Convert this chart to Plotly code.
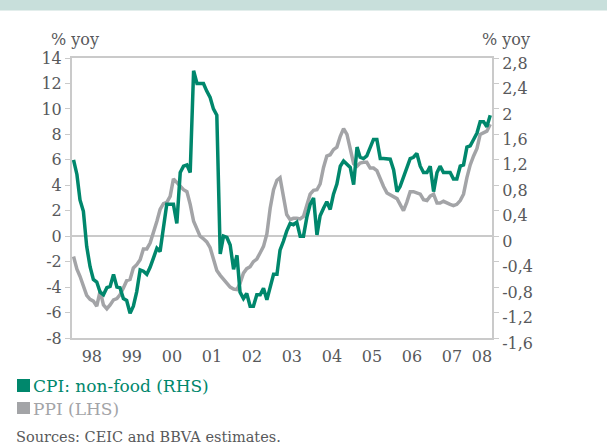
import pandas as pd
import plotly.graph_objects as go

# Monthly data Jan 1998 - Jun 2008
start_month = "1998-01-01"
n_months = 126

ppi_lhs = [
    -1.6, -2.6, -3.15, -3.9, -4.65, -4.96, -5.1, -5.5, -4.3, -5.4, -5.7, -5.4,
    -5.0, -4.9, -4.6, -4.07, -3.5, -3.4, -2.5, -2.24, -1.85, -1.0, -1.0, -0.54,
    0.25, 1.17, 2.1, 2.55, 2.66, 3.13, 4.5, 4.2, 3.85, 3.65, 3.5, 2.5,
    1.17, 0.6, 0.0, -0.2, -0.45, -0.9, -1.7, -2.7, -3.08, -3.4, -3.76, -4.0,
    -4.15, -4.2, -3.7, -2.9, -2.55, -2.4, -2.0, -1.8, -1.3, -0.8, 0.17, 2.2,
    3.65, 4.4, 4.6, 3.0, 1.7, 1.3, 1.4, 1.4, 1.35, 1.55, 2.5, 3.3,
    3.6, 3.65, 4.1, 5.4, 6.3, 6.4, 6.8, 7.0, 7.85, 8.45, 8.0, 7.0,
    5.7, 5.5, 5.75, 5.8, 5.8, 5.35, 5.35, 5.15, 4.5, 3.9, 3.4, 3.26,
    3.13, 2.95, 2.5, 2.0, 2.66, 3.5, 3.5, 3.4, 3.3, 2.87, 2.8, 3.15,
    3.3, 2.6, 2.6, 2.74, 2.6, 2.5, 2.4, 2.5, 2.8, 3.3, 4.6, 5.6,
    6.3, 6.9, 8.0, 8.1, 8.25, 8.8,
]

cpi_nonfood_rhs = [
    1.20, 0.97, 0.57, 0.39, -0.16, -0.48, -0.68, -0.72, -0.88, -0.92, -0.81, -0.79,
    -0.60, -0.80, -0.81, -0.98, -1.01, -1.21, -1.10, -0.87, -0.53, -0.55, -0.60, -0.49,
    -0.34, -0.19, -0.24, 0.13, 0.50, 0.50, 0.50, 0.20, 1.00, 1.10, 1.12, 1.00,
    2.60, 2.40, 2.40, 2.40, 2.28, 2.18, 2.00, 1.90, -0.28, 0.00, -0.02, -0.14,
    -0.52, -0.30, -0.88, -0.98, -0.90, -1.10, -1.10, -0.92, -0.92, -0.82, -1.00, -0.82,
    -0.60, -0.60, -0.22, -0.08, 0.08, 0.20, 0.18, 0.22, 0.00, 0.00, 0.30, 0.50,
    0.60, 0.02, 0.32, 0.44, 0.54, 0.42, 0.66, 0.82, 1.10, 1.18, 1.12, 1.08,
    0.81, 1.40, 1.24, 1.22, 1.26, 1.38, 1.52, 1.52, 1.22, 1.22, 1.22, 1.21,
    1.04, 0.70, 0.78, 0.92, 1.08, 1.22, 1.24, 1.30, 1.10, 1.00, 1.00, 1.10,
    0.70, 1.00, 1.10, 1.00, 1.00, 1.00, 0.90, 0.90, 1.10, 1.12, 1.40, 1.42,
    1.52, 1.62, 1.80, 1.80, 1.72, 1.90,
]

year_tick_dates = ["1998-07-01", "1999-07-01", "2000-07-01", "2001-07-01", "2002-07-01",
                   "2003-07-01", "2004-07-01", "2005-07-01", "2006-07-01", "2007-07-01",
                   "2008-04-01"]
year_tick_labels = ["98", "99", "00", "01", "02", "03", "04", "05", "06", "07", "08"]

left_ticks = [-8, -6, -4, -2, 0, 2, 4, 6, 8, 10, 12, 14]
left_tick_labels = ["-8", "-6", "-4", "-2", "0", "2", "4", "6", "8", "10", "12", "14"]
right_ticks = [-1.6, -1.2, -0.8, -0.4, 0, 0.4, 0.8, 1.2, 1.6, 2.0, 2.4, 2.8]
right_tick_labels = ["-1,6", "-1,2", "-0,8", "-0,4", "0", "0,4", "0,8", "1,2", "1,6", "2", "2,4", "2,8"]

months = pd.date_range(start_month, periods=n_months, freq="MS") + pd.Timedelta(days=14)

GREEN = "#00876C"
GREY = "#A3A4A7"
TXT = "#58595B"
AXC = "#CACACA"
FONT = "DejaVu Serif, Liberation Serif, serif"

W, H = 607, 446
L, R, T, B = 72, 115, 58, 108
PW, PH = W - L - R, H - T - B


def py(y_px):
    return (H - B - y_px) / PH


def px(x_px):
    return (x_px - L) / PW


fig = go.Figure()
fig.add_trace(go.Scatter(x=months, y=ppi_lhs, mode="lines", name="PPI (LHS)",
                         line=dict(color=GREY, width=3.5), yaxis="y"))
fig.add_trace(go.Scatter(x=months, y=cpi_nonfood_rhs, mode="lines", name="CPI: non-food (RHS)",
                         line=dict(color=GREEN, width=3.5), yaxis="y2"))

fig.update_layout(
    width=W, height=H,
    margin=dict(l=L, r=R, t=T, b=B, autoexpand=False),
    paper_bgcolor="white", plot_bgcolor="white",
    showlegend=False,
    font=dict(family=FONT, size=16, color=TXT),
    xaxis=dict(
        range=["1998-01-01", "2008-07-01"],
        tickvals=year_tick_dates, ticktext=year_tick_labels,
        showgrid=False, zeroline=False,
        showline=True, linecolor=AXC, linewidth=2, mirror=True,
        ticks="", ticklabelstandoff=3,
        tickfont=dict(family=FONT, size=16, color=TXT),
    ),
    yaxis=dict(
        range=[-8, 14], tickvals=left_ticks, ticktext=left_tick_labels,
        showgrid=False, zeroline=True, zerolinecolor=AXC, zerolinewidth=1.5,
        showline=True, linecolor=AXC, linewidth=2, mirror=True,
        ticks="outside", ticklen=5, tickcolor=AXC, tickwidth=1,
        tickfont=dict(family=FONT, size=16, color=TXT),
    ),
    yaxis2=dict(
        range=[-1.6, 2.8], tickvals=right_ticks, ticktext=right_tick_labels,
        overlaying="y", side="right",
        showgrid=False, zeroline=False,
        showline=True, linecolor=AXC, linewidth=2,
        ticks="outside", ticklen=5, tickcolor=AXC, tickwidth=1,
        ticklabelshift=5,
        tickfont=dict(family=FONT, size=16, color=TXT),
    ),
)

# top band
fig.add_shape(type="rect", xref="paper", yref="paper", x0=px(0), x1=px(W),
              y0=py(10), y1=py(0), fillcolor="#C8DFDB", line=dict(width=0))
fig.add_shape(type="line", xref="paper", yref="paper", x0=px(0), x1=px(W),
              y0=py(10.5), y1=py(10.5), line=dict(color="#E3EEEC", width=1))

# axis unit titles
fig.add_annotation(xref="paper", yref="paper", x=px(49), y=py(39), text="% yoy",
                   showarrow=False, xanchor="left", yanchor="middle",
                   font=dict(family=FONT, size=16, color=TXT))
fig.add_annotation(xref="paper", yref="paper", x=px(480), y=py(39), text="% yoy",
                   showarrow=False, xanchor="left", yanchor="middle",
                   font=dict(family=FONT, size=16, color=TXT))

# legend
fig.add_shape(type="rect", xref="paper", yref="paper", x0=px(17), x1=px(30),
              y0=py(392), y1=py(379), fillcolor=GREEN, line=dict(width=0))
fig.add_annotation(xref="paper", yref="paper", x=px(31), y=py(385.5), text="CPI: non-food (RHS)",
                   showarrow=False, xanchor="left", yanchor="middle",
                   font=dict(family=FONT, size=17, color=GREEN))
fig.add_shape(type="rect", xref="paper", yref="paper", x0=px(17), x1=px(30),
              y0=py(414), y1=py(402), fillcolor=GREY, line=dict(width=0))
fig.add_annotation(xref="paper", yref="paper", x=px(31), y=py(408.5), text="PPI (LHS)",
                   showarrow=False, xanchor="left", yanchor="middle",
                   font=dict(family=FONT, size=17, color=GREY))

fig.add_annotation(xref="paper", yref="paper", x=px(14), y=py(437), text="Sources: CEIC and BBVA estimates.",
                   showarrow=False, xanchor="left", yanchor="middle",
                   font=dict(family=FONT, size=14.5, color=TXT))

fig.write_html("out.html", config={"displayModeBar": False},
               post_script="document.body.style.margin='0px';document.body.style.overflow='hidden';")
